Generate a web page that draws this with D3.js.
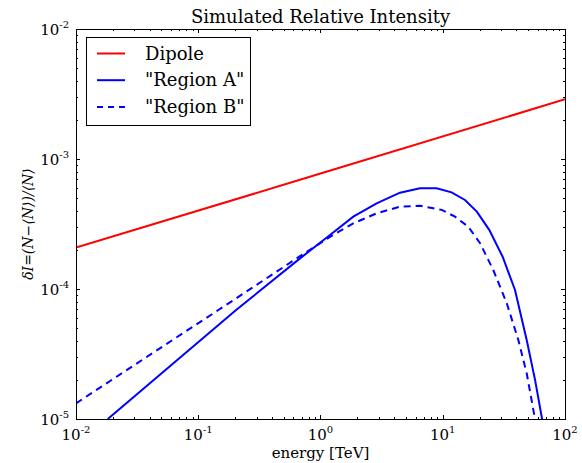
<!DOCTYPE html>
<html>
<head>
<meta charset="utf-8">
<script src="https://cdn.jsdelivr.net/npm/d3@7"></script>
<style>
  body { margin: 0; background: #fff; }
  svg text { font-family: "DejaVu Serif", serif; fill: #000; }
</style>
</head>
<body>
<svg id="chart" width="582" height="463"></svg>
<script>
// energies in TeV, intensities
var dipoleE = [0.01, 1, 100];
var dipoleI = [2.08e-4, 7.73e-4, 2.88e-3];

var regionAE = [0.0182, 0.204, 0.68, 1.196, 1.855, 2.88, 4.47, 6.51, 8.92, 11.8, 15.2, 19.0, 24.0, 30.9, 39.0, 48.6, 56.9, 65.2];
var regionAI = [1.0e-5, 6.89e-5, 1.72e-4, 2.60e-4, 3.60e-4, 4.56e-4, 5.51e-4, 5.96e-4, 5.96e-4, 5.54e-4, 4.84e-4, 3.94e-4, 2.85e-4, 1.77e-4, 9.83e-5, 4.05e-5, 2.0e-5, 9.8e-6];

var regionBE = [0.01, 0.204, 0.68, 1.196, 1.855, 2.88, 4.47, 6.51, 8.38, 9.8, 12.6, 16.2, 20.2, 25.9, 33.4, 41.5, 48.6, 55.7, 59.6];
var regionBI = [1.32e-5, 8.47e-5, 1.79e-4, 2.52e-4, 3.20e-4, 3.82e-4, 4.30e-4, 4.37e-4, 4.18e-4, 4.06e-4, 3.60e-4, 3.01e-4, 2.25e-4, 1.40e-4, 7.76e-5, 4.06e-5, 2.25e-5, 1.11e-5, 7.9e-6];

var xTicks = [-2, -1, 0, 1, 2];
var yTicks = [-5, -4, -3, -2];
var seriesNames = ["Dipole", "\"Region A\"", "\"Region B\""];

var box = { left: 76, right: 565, top: 29, bottom: 419 };

var svg = d3.select("#chart");

var x = d3.scaleLog().domain([1e-2, 1e2]).range([box.left, box.right]);
var y = d3.scaleLog().domain([1e-5, 1e-2]).range([box.bottom, box.top]);

svg.append("clipPath").attr("id", "plotclip")
    .append("rect")
    .attr("x", box.left).attr("y", box.top)
    .attr("width", box.right - box.left).attr("height", box.bottom - box.top);

var line = d3.line()
    .x(function (d) { return x(d[0]); })
    .y(function (d) { return y(d[1]); });

var series = [
    { name: seriesNames[0], pts: d3.zip(dipoleE, dipoleI), color: "#ff0000", dash: null },
    { name: seriesNames[1], pts: d3.zip(regionAE, regionAI), color: "#0000ff", dash: null },
    { name: seriesNames[2], pts: d3.zip(regionBE, regionBI), color: "#0000ff", dash: "7,5" }
];

var plot = svg.append("g").attr("clip-path", "url(#plotclip)");
series.forEach(function (s) {
    plot.append("path")
        .attr("d", line(s.pts))
        .attr("fill", "none")
        .attr("stroke", s.color)
        .attr("stroke-width", 2)
        .attr("stroke-dasharray", s.dash);
});

// minor tick values per decade
function minors(lo, hi) {
    var out = [];
    for (var e = lo; e < hi; e++)
        for (var m = 2; m <= 9; m++) out.push(m * Math.pow(10, e));
    return out;
}

var ticks = svg.append("g").attr("stroke", "#000").attr("stroke-width", 1);
// ticks point inward on all four sides
xTicks.forEach(function (e) {
    var px = Math.round(x(Math.pow(10, e))) + 0.5;
    ticks.append("line").attr("x1", px).attr("x2", px).attr("y1", box.bottom).attr("y2", box.bottom - 4);
    ticks.append("line").attr("x1", px).attr("x2", px).attr("y1", box.top).attr("y2", box.top + 4);
});
minors(-2, 2).forEach(function (v) {
    var px = Math.round(x(v)) + 0.5;
    ticks.append("line").attr("x1", px).attr("x2", px).attr("y1", box.bottom).attr("y2", box.bottom - 2);
    ticks.append("line").attr("x1", px).attr("x2", px).attr("y1", box.top).attr("y2", box.top + 2);
});
yTicks.forEach(function (e) {
    var py = Math.round(y(Math.pow(10, e))) + 0.5;
    ticks.append("line").attr("x1", box.left).attr("x2", box.left + 4).attr("y1", py).attr("y2", py);
    ticks.append("line").attr("x1", box.right).attr("x2", box.right - 4).attr("y1", py).attr("y2", py);
});
minors(-5, -2).forEach(function (v) {
    var py = Math.round(y(v)) + 0.5;
    ticks.append("line").attr("x1", box.left).attr("x2", box.left + 2).attr("y1", py).attr("y2", py);
    ticks.append("line").attr("x1", box.right).attr("x2", box.right - 2).attr("y1", py).attr("y2", py);
});

svg.append("rect")
    .attr("x", box.left + 0.5).attr("y", box.top + 0.5)
    .attr("width", box.right - box.left).attr("height", box.bottom - box.top)
    .attr("fill", "none").attr("stroke", "#000").attr("stroke-width", 1);

function powLabel(g, e) {
    g.append("tspan").text("10");
    g.append("tspan").attr("dy", -7).attr("font-size", 10).text(String(e));
}

xTicks.forEach(function (e) {
    var t = svg.append("text")
        .attr("x", x(Math.pow(10, e)))
        .attr("y", 440)
        .attr("text-anchor", "middle")
        .attr("font-size", 15);
    powLabel(t, e);
});
yTicks.forEach(function (e) {
    var t = svg.append("text")
        .attr("x", 69)
        .attr("y", y(Math.pow(10, e)) + 6)
        .attr("text-anchor", "end")
        .attr("font-size", 15);
    powLabel(t, e);
});

svg.append("text")
    .attr("x", (box.left + box.right) / 2).attr("y", 23)
    .attr("text-anchor", "middle")
    .attr("font-size", 18)
    .text("Simulated Relative Intensity");

svg.append("text")
    .attr("x", (box.left + box.right) / 2).attr("y", 458)
    .attr("text-anchor", "middle")
    .attr("font-size", 15)
    .text("energy [TeV]");

svg.append("text")
    .attr("transform", "translate(33," + ((box.top + box.bottom) / 2) + ") rotate(-90)")
    .attr("text-anchor", "middle")
    .attr("font-size", 14)
    .attr("font-style", "italic")
    .text("\u03b4I=(N\u2212\u27e8N\u27e9)/\u27e8N\u27e9");

// legend
var lg = svg.append("g");
lg.append("rect")
    .attr("x", 86.5).attr("y", 37.5)
    .attr("width", 164).attr("height", 88)
    .attr("fill", "#fff").attr("stroke", "#000").attr("stroke-width", 1);
series.forEach(function (s, i) {
    var ly = 53.5 + i * 26.7;
    lg.append("line")
        .attr("x1", 97).attr("x2", 125)
        .attr("y1", ly).attr("y2", ly)
        .attr("stroke", s.color).attr("stroke-width", 2)
        .attr("stroke-dasharray", s.dash ? "6,5" : null);
    lg.append("text")
        .attr("x", 145).attr("y", ly + 6)
        .attr("font-size", 18)
        .text(s.name);
});
</script>
</body>
</html>
